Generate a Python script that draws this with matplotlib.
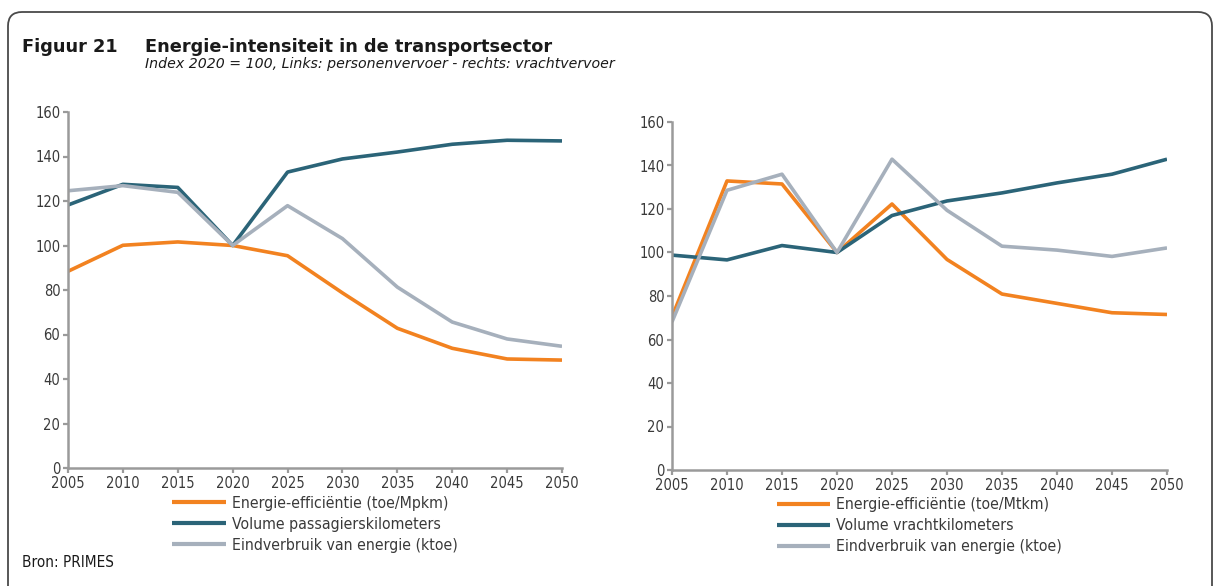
import matplotlib
matplotlib.use("Agg")
import matplotlib.pyplot as plt
from matplotlib.patches import FancyBboxPatch
from matplotlib.transforms import IdentityTransform

years = [2005, 2010, 2015, 2020, 2025, 2030, 2035, 2040, 2045, 2050]

# Links: personenvervoer
pers_efficientie = [88.4, 100.1, 101.6, 100.0, 95.4, 78.7, 62.8, 53.8, 49.0, 48.5]
pers_volume = [118.2, 127.5, 126.1, 100.0, 133.0, 138.9, 142.0, 145.5, 147.3, 147.0]
pers_eindverbruik = [124.6, 126.9, 123.9, 100.0, 117.9, 103.1, 81.3, 65.6, 58.0, 54.7]

# Rechts: vrachtvervoer
vracht_efficientie = [70.4, 132.9, 131.5, 100.0, 122.3, 96.8, 80.9, 76.6, 72.3, 71.5]
vracht_volume = [98.8, 96.6, 103.2, 100.0, 117.0, 123.7, 127.4, 132.0, 136.0, 142.9]
vracht_eindverbruik = [68.1, 128.6, 136.0, 100.0, 142.9, 119.4, 102.9, 101.1, 98.2, 102.1]

labels_pers = ["Energie-efficiëntie (toe/Mpkm)", "Volume passagierskilometers",
               "Eindverbruik van energie (ktoe)"]
labels_vracht = ["Energie-efficiëntie (toe/Mtkm)", "Volume vrachtkilometers",
                 "Eindverbruik van energie (ktoe)"]
yticks = [0, 20, 40, 60, 80, 100, 120, 140, 160]

colors = ["#F28220", "#2B6478", "#A6B0BC"]
axis_col = "#9A9A9A"
text_col = "#3A3A3A"

plt.rcParams["font.family"] = ["DejaVu Sans"]
plt.rcParams["font.stretch"] = "condensed"

W, H = 1215, 586
fig = plt.figure(figsize=(W / 100, H / 100), dpi=100)
fig.patch.set_facecolor("white")


def px_axes(x0, x1, ytop, ybot):
    return fig.add_axes([x0 / W, 1 - ybot / H, (x1 - x0) / W, (ybot - ytop) / H])


def style(ax, series, labels):
    for vals, c, lab in zip(series, colors, labels):
        ax.plot(years, vals, color=c, lw=2.6, label=lab, solid_capstyle="butt")
    ax.set_xlim(2005, 2050)
    ax.set_ylim(0, 160)
    ax.set_xticks(years)
    ax.set_yticks(yticks)
    for s in ["top", "right"]:
        ax.spines[s].set_visible(False)
    for s in ["left", "bottom"]:
        ax.spines[s].set_color(axis_col)
        ax.spines[s].set_linewidth(1.8)
    ax.tick_params(axis="both", colors=axis_col, length=3.5, width=1.6,
                   labelcolor=text_col, labelsize=10.5, pad=2)
    leg = ax.legend(loc="upper center", bbox_to_anchor=(0.5, -0.056), frameon=False,
                    fontsize=11.3, handlelength=3.4, handletextpad=0.4,
                    labelspacing=0.38, borderpad=0)
    for t in leg.get_texts():
        t.set_color(text_col)
    for h in leg.get_lines():
        h.set_linewidth(3)


ax1 = px_axes(68, 562, 112, 468)
style(ax1, [pers_efficientie, pers_volume, pers_eindverbruik], labels_pers)
ax2 = px_axes(672, 1167, 122, 470)
style(ax2, [vracht_efficientie, vracht_volume, vracht_eindverbruik], labels_vracht)

# Frame with rounded top corners
box = FancyBboxPatch((8, -40), 1204, 586 - 12 + 40,
                     boxstyle="round,pad=0,rounding_size=14",
                     transform=IdentityTransform(), fill=False,
                     edgecolor="#4A4A4A", linewidth=1.3)
fig.add_artist(box)

fig.text(22 / W, 1 - 52 / H, "Figuur 21", fontsize=12.8, fontweight="bold",
         color="#1A1A1A", fontstretch="normal")
fig.text(145 / W, 1 - 52 / H, "Energie-intensiteit in de transportsector", fontsize=12.8,
         fontweight="bold", color="#1A1A1A", fontstretch="normal")
fig.text(145 / W, 1 - 68 / H,
         "Index 2020 = 100, Links: personenvervoer - rechts: vrachtvervoer",
         fontsize=10.2, style="italic", color="#1A1A1A", fontstretch="normal")
fig.text(22 / W, 1 - 567 / H, "Bron: PRIMES", fontsize=11, color="#1A1A1A")

fig.savefig("out.png", dpi=100, facecolor="white")
